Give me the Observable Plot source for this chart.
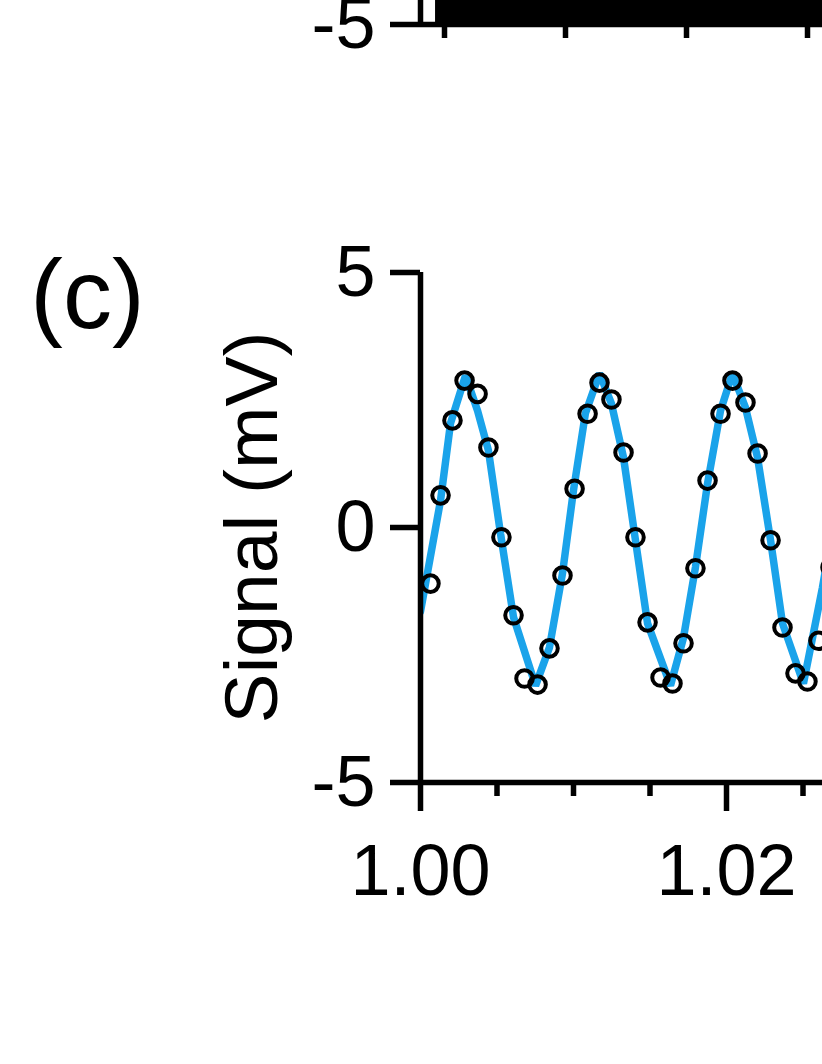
<!DOCTYPE html>
<html>
<head>
<meta charset="utf-8">
<script src="https://cdn.jsdelivr.net/npm/d3@7"></script>
<script src="https://cdn.jsdelivr.net/npm/@observablehq/plot@0.6"></script>
<style>
  html, body { margin: 0; padding: 0; background: #fff; }
  body { width: 822px; height: 1064px; overflow: hidden; position: relative; }
  .panel { position: absolute; left: 0; }
</style>
</head>
<body>
<div id="b" class="panel"></div>
<div id="c" class="panel"></div>
<script>
// ---------- Panel (c) data ----------
const sampleTime = [1.00065, 1.00131, 1.00209, 1.00288, 1.00373, 1.00444, 1.00529, 1.00608, 1.00680, 1.00765,
  1.00843, 1.00928, 1.01007, 1.01092, 1.01170, 1.01248, 1.01327, 1.01405, 1.01484, 1.01569,
  1.01647, 1.01719, 1.01797, 1.01876, 1.01961, 1.02039, 1.02124, 1.02203, 1.02288, 1.02366,
  1.02451, 1.02529, 1.02601, 1.02680];
const sampleSignal = [-1.10, 0.63, 2.10, 2.88, 2.62, 1.57, -0.19, -1.72, -2.96, -3.08,
  -2.37, -0.94, 0.76, 2.23, 2.84, 2.51, 1.47, -0.19, -1.86, -2.94,
  -3.06, -2.27, -0.80, 0.92, 2.23, 2.88, 2.45, 1.45, -0.25, -1.96,
  -2.86, -3.02, -2.22, -0.78];

const fitTime = [1.00000, 1.00131, 1.00196, 1.00294, 1.00373, 1.00444, 1.00523, 1.00608, 1.00752, 1.00843,
  1.00928, 1.01000, 1.01078, 1.01170, 1.01248, 1.01327, 1.01405, 1.01484, 1.01634, 1.01719,
  1.01797, 1.01876, 1.01961, 1.02039, 1.02124, 1.02203, 1.02288, 1.02366, 1.02503, 1.02627,
  1.02712, 1.02791, 1.02915];
const fitSignal = [-1.65, 0.53, 2.04, 2.98, 2.29, 1.51, -0.12, -1.76, -3.10, -2.35,
  -0.90, 0.73, 2.24, 3.02, 2.43, 1.37, -0.25, -1.88, -3.10, -2.16,
  -0.78, 0.86, 2.29, 3.02, 2.35, 1.37, -0.25, -1.88, -3.06, -1.18,
  0.30, 1.80, 3.00];

const cXMajorTicks = [1.00, 1.02, 1.04];
const cXMinorTicks = [1.005, 1.01, 1.015, 1.025, 1.03, 1.035];
const cYTicks = [-5, 0, 5];

// ---------- Panel (b) data (bottom of the panel only) ----------
const bEnvelopeX = [-0.074, 3.3];
const bEnvelopeLow = [-5, -5];
const bEnvelopeHigh = [4.6, 4.6];
const bXTicks = [0, 1, 2, 3];
const bYTicks = [-5, 0, 5];

const FONT = '"Liberation Sans", Arial, Helvetica, sans-serif';
const fmtY = d => (d < 0 ? "-" + Math.abs(d) : String(d));
const BLUE = "#1aa3ea";
const AXW = 5.5;

// ---------- Panel (c) ----------
const cPoints = sampleTime.map((t, i) => ({t, v: sampleSignal[i]}));
const cFit = fitTime.map((t, i) => ({t, v: fitSignal[i]}));

const plotC = Plot.plot({
  width: 822,
  height: 732,
  marginLeft: 420,
  marginRight: 0,
  marginTop: 72,
  marginBottom: 150,
  style: {fontFamily: FONT, background: "transparent", overflow: "visible"},
  x: {domain: [1.00, 1.00 + 402 / 15300], axis: null},
  y: {domain: [-5, 5], axis: null},
  marks: [
    Plot.line(cFit, {x: "t", y: "v", stroke: BLUE, strokeWidth: 7.5, strokeLinejoin: "miter", clip: true}),
    Plot.dot(cPoints, {x: "t", y: "v", r: 8.3, stroke: "black", strokeWidth: 4, fill: "none", clip: true}),
    Plot.ruleX([1.00], {y1: -5, y2: 5, stroke: "black", strokeWidth: AXW}),
    Plot.ruleY([-5], {stroke: "black", strokeWidth: AXW}),
    Plot.axisY({ticks: cYTicks, tickSize: 30, tickPadding: 15, fontSize: 72, strokeWidth: AXW, tickFormat: fmtY, label: null}),
    Plot.axisX({ticks: cXMajorTicks, tickSize: 29, tickPadding: 32, fontSize: 72, strokeWidth: AXW, tickFormat: d3.format(".2f"), label: null}),
    Plot.axisX({ticks: cXMinorTicks, tickSize: 14, strokeWidth: AXW, tickFormat: () => "", label: null}),
    Plot.text(["Signal (mV)"], {frameAnchor: "left", text: d => d, rotate: -90, dx: -168, fontSize: 75, fill: "black", textAnchor: "middle", lineAnchor: "middle"}),
    Plot.text(["(c)"], {frameAnchor: "top-left", text: d => d, dx: -333, dy: 24, fontSize: 98, fill: "black", textAnchor: "middle", lineAnchor: "middle"})
  ]
});
const cDiv = document.getElementById("c");
cDiv.style.top = "200px";
cDiv.appendChild(plotC);

// ---------- Panel (b) ----------
const bEnv = bEnvelopeX.map((x, i) => ({x, lo: bEnvelopeLow[i], hi: bEnvelopeHigh[i]}));
const bX0 = -24 / 121;
const plotB = Plot.plot({
  width: 822,
  height: 560,
  marginLeft: 420,
  marginRight: 0,
  marginTop: 10,
  marginBottom: 40,
  style: {fontFamily: FONT, background: "transparent", overflow: "visible"},
  x: {domain: [bX0, bX0 + 402 / 121], axis: null},
  y: {domain: [-5, 5], axis: null},
  marks: [
    Plot.areaY(bEnv, {x: "x", y1: "lo", y2: "hi", fill: "black", clip: true}),
    Plot.ruleX([bX0], {y1: -5, y2: 5, stroke: "black", strokeWidth: AXW}),
    Plot.ruleY([-5], {stroke: "black", strokeWidth: AXW}),
    Plot.axisY({ticks: bYTicks, tickSize: 30, tickPadding: 15, fontSize: 72, strokeWidth: AXW, tickFormat: fmtY, label: null}),
    Plot.axisX({ticks: bXTicks, tickSize: 14, strokeWidth: AXW, tickFormat: () => "", label: null})
  ]
});
const bDiv = document.getElementById("b");
bDiv.style.top = (24 - 520) + "px";
bDiv.appendChild(plotB);
</script>
</body>
</html>
